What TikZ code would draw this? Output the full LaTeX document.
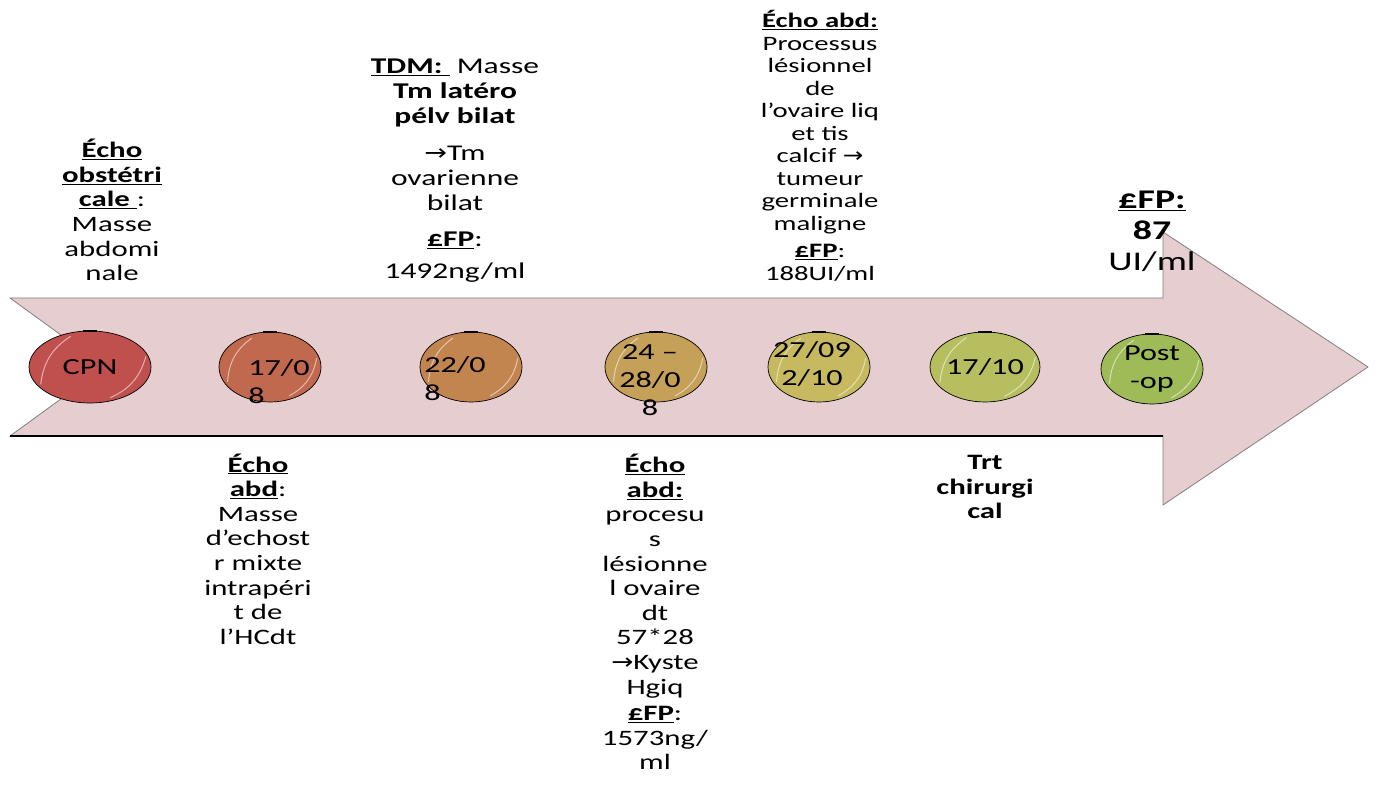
\documentclass[tikz,border=0pt]{standalone}
\usepackage{fontspec}
\setmainfont[FakeStretch=1.4]{Carlito}
\newfontfamily\arrowfont[FakeStretch=1.2]{DejaVu Sans}
\usetikzlibrary{shapes.geometric}

\definecolor{band}{HTML}{E6CED0}
\definecolor{cA}{HTML}{C0504D}
\definecolor{cB}{HTML}{C0694E}
\definecolor{cC}{HTML}{C28550}
\definecolor{cD}{HTML}{C4A058}
\definecolor{cE}{HTML}{C6B95F}
\definecolor{cF}{HTML}{B7BE5F}
\definecolor{cG}{HTML}{9EBB58}

\newcommand{\ra}{{\arrowfont →}}

\tikzset{
  dot/.style={ellipse, draw=black, line width=0.7pt, minimum width=102pt,
    minimum height=70pt, inner sep=0pt, align=center,
    font=\fontsize{23}{28}\selectfont},
  dottext/.style={inner sep=0pt, font=\fontsize{23}{28}\selectfont},
  note/.style={align=center, inner sep=0pt, font=\fontsize{22}{24.6}\selectfont},
  gloss/.style={white, opacity=0.55, line width=1pt, line cap=round}
}

\begin{document}
\begin{tikzpicture}[x=1pt,y=1pt]
  \useasboundingbox (0,0) rectangle (1375,784);

  % Draw the big arrow
  \draw[fill=band, draw=gray, line width=0.8pt]
    (10,486) -- (1163,486) -- (1163,552) -- (1368,417) -- (1163,279)
    -- (1163,348) -- (10,348) -- (105,417) -- cycle;
  \draw[line width=2.2pt] (10,348) -- (1163,348);

  % Dates on the arrow
  \node[dot, minimum width=122pt, minimum height=72pt, fill=cA] (cpn) at (90,417) {CPN};
  \node[dot, fill=cB] (d1) at (270,417) {};
  \node[dot, fill=cC] (d2) at (471,417) {};
  \node[dot, fill=cD] (d3) at (656,417) {};
  \node[dot, fill=cE] (d4) at (819,417) {};
  \node[dot, fill=cF] (d5) at (985,417) {17/10};
  \node[dot, fill=cG] (d6) at (1152,415) {Post\\-op};
  \foreach \n in {cpn,d1,d2,d3,d4,d5,d6} {
    \draw[line width=2.2pt] ([xshift=-7pt]\n.north) -- ([xshift=7pt]\n.north);
    \draw[gloss] ([shift={(3pt,2pt)}]\n.200) to[bend left=25] ([shift={(4pt,-3pt)}]\n.125);
    \draw[gloss] ([shift={(-3pt,3pt)}]\n.-55) to[bend right=25] ([shift={(-3pt,0pt)}]\n.10);
  }
  \node[dottext, align=left] (t1) at (279,402) {17/0\\8};
  \node[dottext, align=left] (t2) at (455,405) {22/0\\8};
  \node[dottext, align=center] (t3) at (650,404) {24 –\\28/0\\8};
  \node[dottext, align=center] (t4) at (812,420) {27/09\\2/10};

  % Notes above the arrow
  \node[note] (n1) at (112,574) {\textbf{\underline{Écho}}\\ \textbf{\underline{obstétri}}\\
    \textbf{\underline{cale\ }}:\\ Masse\\ abdomi\\ nale};
  \node[note, font=\fontsize{22.5}{25}\selectfont] (n2) at (455,613)
    {\textbf{\underline{TDM:\ }}\ Masse\\ \textbf{Tm latéro}\\
    \textbf{pélv bilat}\\[12pt] \ra Tm\\ ovarienne\\ bilat\\[11pt]
    \textbf{\underline{£FP}}:\\[7pt] 1492ng/ml};
  \node[note, font=\fontsize{20.5}{22.5}\selectfont] (n3) at (820,638)
    {\textbf{\underline{Écho abd:}}\\ Processus\\ lésionnel\\ de\\ l’ovaire liq\\ et tis\\
    calcif \ra\\ tumeur\\ germinale\\ maligne\\[5pt] \textbf{\underline{£FP}}:\\ 188UI/ml};
  \node[note, font=\fontsize{27}{31}\selectfont] (n4) at (1152,553)
    {\textbf{\underline{£FP:}}\\ \textbf{87}\\ UI/ml};

  % Notes below the arrow
  \node[note] (n5) at (258,235) {\textbf{\underline{Écho}}\\ \textbf{\underline{abd}}:\\ Masse\\
    d’echost\\ r mixte\\ intrapéri\\ t de\\ l’HCdt};
  \node[note] (n6) at (655,172) {\textbf{\underline{Écho}}\\ \textbf{\underline{abd:}}\\
    procesu\\ s\\ lésionne\\ l ovaire\\ dt\\ 57*28\\ \ra Kyste\\ Hgiq\\[2pt]
    \textbf{\underline{£FP}}:\\ 1573ng/\\ ml};
  \node[note, font=\fontsize{22}{24.6}\selectfont\bfseries] (n7) at (985,297)
    {Trt\\ chirurgi\\ cal};
\end{tikzpicture}
\end{document}
